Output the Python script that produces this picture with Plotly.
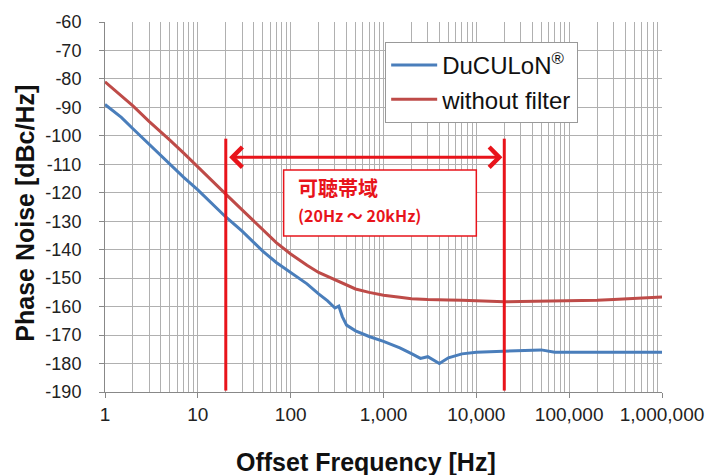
import math
import plotly.graph_objects as go

# ---- data ----
freq_nofilter = [1, 1.5, 2, 3, 4, 5, 7, 10, 15, 20, 30, 40, 50, 70, 100, 150, 200, 300, 400, 500,
                 700, 1000, 1500, 2000, 3000, 4000, 5000, 7000, 10000, 15000, 20000, 30000, 50000,
                 70000, 100000, 200000, 300000, 500000, 700000, 1000000]
pn_nofilter = [-81, -86, -89.5, -95, -98.5, -101.5, -106, -111, -116.5, -120.5, -126, -130, -133,
               -137.5, -141.5, -145.5, -148, -150.5, -152.5, -153.8, -155, -156, -156.7, -157.2,
               -157.5, -157.7, -157.7, -157.8, -158, -158.2, -158.3, -158.2, -158.1, -158.2, -158,
               -157.8, -157.5, -157.2, -157, -156.6]

freq_duculon = [1, 1.5, 2, 3, 4, 5, 7, 10, 15, 20, 30, 40, 50, 70, 100, 150, 200, 250, 300, 330,
                360, 400, 500, 700, 1000, 1500, 2000, 2500, 3000, 3500, 4000, 5000, 7000, 10000,
                20000, 30000, 50000, 70000, 100000, 200000, 500000, 1000000]
pn_duculon = [-89, -93.5, -97.5, -103, -107, -110, -114.5, -119, -124.5, -128.5, -133.5, -137.5,
              -140.5, -144.5, -148, -152, -155.5, -158, -160.5, -159.8, -163.5, -166.5, -168.5,
              -170.5, -172.2, -174.5, -176.5, -178.2, -177.6, -179, -180, -178, -176.6, -176,
              -175.6, -175.5, -175.2, -176, -176, -176, -176, -176]

band = [20, 20000]
band_label = "可聴帯域"
band_range = "(20Hz ～ 20kHz)"

x_tickvals = [1, 10, 100, 1000, 10000, 100000, 1000000]
x_ticktext = ["1", "10", "100", "1,000", "10,000", "100,000", "1,000,000"]
y_tickvals = [-190, -180, -170, -160, -150, -140, -130, -120, -110, -100, -90, -80, -70, -60]
y_ticktext = ["-190", "-180", "-170", "-160", "-150", "-140", "-130", "-120", "-110", "-100",
              "-90", "-80", "-70", "-60"]
x_title = "Offset Frequency [Hz]"
y_title = "Phase Noise [dBc/Hz]"

BLUE = "#4A7EBB"
RED = "#BE4B48"
MARK = "#E8141B"
GRID = "#B0B0B0"

fig = go.Figure()
fig.add_trace(go.Scatter(x=freq_duculon, y=pn_duculon, mode="lines", name="DuCULoN<sup>®</sup>",
                         line=dict(color=BLUE, width=3)))
fig.add_trace(go.Scatter(x=freq_nofilter, y=pn_nofilter, mode="lines", name="without filter",
                         line=dict(color=RED, width=3)))

# band marker lines
for b in band:
    fig.add_trace(go.Scatter(x=[b, b], y=[-101, -189.5], mode="lines", showlegend=False,
                             hoverinfo="skip", line=dict(color=MARK, width=3)))

# double arrow
fig.add_annotation(x=math.log10(band[1]) - 0.02, y=-107.5, ax=math.log10(band[0]) + 0.02, ay=-107.5,
                   xref="x", yref="y", axref="x", ayref="y", text="", showarrow=True,
                   arrowhead=4, startarrowhead=4, arrowside="end+start", arrowsize=1.3,
                   startarrowsize=1.3, arrowwidth=3, arrowcolor=MARK)

# label box
fig.add_shape(type="rect", xref="x", yref="y", x0=84, x1=10000, y0=-112, y1=-135.2,
              line=dict(color=MARK, width=1.5), fillcolor="white", layer="above")
fig.add_annotation(x=2.06, y=-118, xref="x", yref="y", text="<b>" + band_label + "</b>",
                   showarrow=False, xanchor="left", yanchor="middle",
                   font=dict(family="Noto Sans CJK JP", size=20, color=MARK))
fig.add_annotation(x=2.06, y=-127.8, xref="x", yref="y", text="<b>" + band_range + "</b>",
                   showarrow=False, xanchor="left", yanchor="middle",
                   font=dict(family="Noto Sans CJK JP", size=16, color=MARK))

# axis titles
fig.add_annotation(x=0.4686, y=-0.19, xref="paper", yref="paper", text="<b>" + x_title + "</b>",
                   showarrow=False, xanchor="center", yanchor="middle",
                   font=dict(size=25, color="#111"))
fig.add_annotation(x=-0.1436, y=0.482, xref="paper", yref="paper", text="<b>" + y_title + "</b>",
                   showarrow=False, xanchor="center", yanchor="middle", textangle=-90,
                   font=dict(size=25, color="#111"))

fig.update_layout(
    width=705, height=475,
    margin=dict(l=105, r=43, t=22, b=83),
    paper_bgcolor="white", plot_bgcolor="white",
    font=dict(family="Liberation Sans, Arial, sans-serif", color="#222"),
    legend=dict(x=0.503, y=0.946, xanchor="left", yanchor="top",
                bgcolor="white", bordercolor="#999", borderwidth=1, itemwidth=46,
                font=dict(size=24, color="#111"), tracegroupgap=0),
)
fig.update_xaxes(type="log", range=[0, 6], tickvals=x_tickvals, ticktext=x_ticktext,
                 showgrid=True, gridcolor=GRID, gridwidth=1,
                 minor=dict(tickvals=[m * 10 ** d for d in range(6) for m in range(2, 10)],
                            showgrid=True, gridcolor=GRID, gridwidth=1, ticks=""),
                 ticks="outside", ticklen=5, tickcolor="#888", showline=True, linecolor="#888",
                 mirror=False, zeroline=False, tickfont=dict(size=19), automargin=False)
fig.update_yaxes(range=[-190, -60], tickvals=y_tickvals, ticktext=y_ticktext,
                 showgrid=True, gridcolor=GRID,
                 ticks="outside", ticklen=5, tickcolor="#888", showline=True, linecolor="#888",
                 zeroline=False, tickfont=dict(size=18), ticklabelstandoff=14, automargin=False)

fig.write_html("out.html")
